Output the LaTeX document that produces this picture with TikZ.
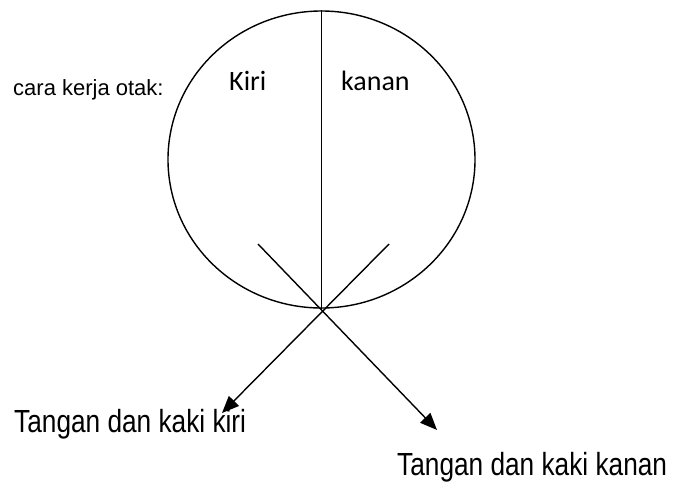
\documentclass[tikz,border=0pt]{standalone}
\usepackage{fontspec}
\setmainfont{Liberation Sans}
\newfontfamily\narrowfont[FakeStretch=0.82]{Liberation Sans}
\newfontfamily\halffont{Carlito}
\usetikzlibrary{arrows.meta,shapes.geometric}
\tikzset{
  brain shape/.style={ellipse,draw,line width=1.4pt,minimum width=307pt,minimum height=297pt,inner sep=0pt},
  half label/.style={anchor=base west,inner sep=0pt,font=\halffont\fontsize{28}{30}\selectfont},
  limb label/.style={anchor=base west,inner sep=0pt,font=\narrowfont\fontsize{32}{34}\selectfont},
  side label/.style={anchor=base west,inner sep=0pt,font=\fontsize{22}{24}\selectfont},
  cross arrow/.style={-{Triangle[length=17pt,width=14pt]},line width=1.4pt}
}

\begin{document}
\begin{tikzpicture}[x=1pt,y=-1pt]
  \useasboundingbox (0,0) rectangle (677,488);
  \node[brain shape] (brain) at (321.5,159.5) {};
  \draw[line width=1.4pt] (brain.north) -- (brain.south);
  \node[side label] (title) at (13,95) {cara kerja otak:};
  \node[half label] (kiri) at (229,90) {Kiri};
  \node[half label] (kanan) at (341,90) {kanan};
  \node[limb label] (leftlimb) at (14,432) {Tangan dan kaki kiri};
  \node[limb label] (rightlimb) at (397,475) {Tangan dan kaki kanan};
  \coordinate (lstart) at (258,244);
  \coordinate (rstart) at (389,244);
  \coordinate (ltip) at (222,413);
  \coordinate (rtip) at (437,430);
  \draw[cross arrow] (lstart) -- (rtip);
  \draw[cross arrow] (rstart) -- (ltip);
\end{tikzpicture}
\end{document}
